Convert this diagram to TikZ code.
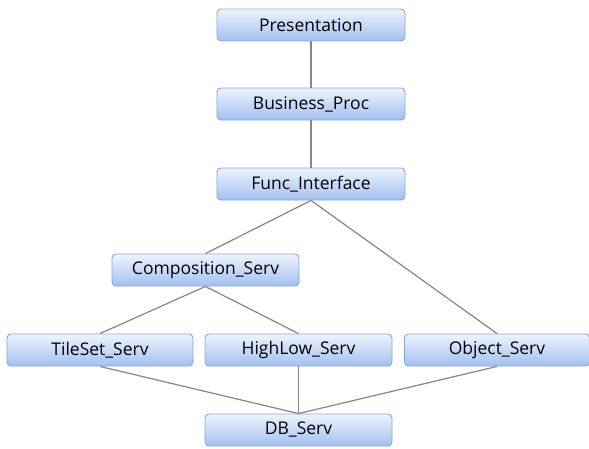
\documentclass[tikz,border=0pt]{standalone}
\usepackage{fontspec}
\setmainfont{Open Sans}
\begin{document}
\begin{tikzpicture}[x=1pt,y=-1pt,
  box/.style={draw=boxborder, line width=0.9pt, rounded corners=4pt, top color=boxtop, bottom color=boxbot,
    minimum width=#1, minimum height=32pt, inner sep=0pt, font=\fontsize{17.5}{20}\selectfont, text=black},
  box/.default=188pt,
  link/.style={draw=linkgray, line width=1.2pt}]
\definecolor{boxborder}{HTML}{86A6DC}
\definecolor{boxtop}{HTML}{EEF4FD}
\definecolor{boxbot}{HTML}{A2C0F0}
\definecolor{linkgray}{HTML}{858585}
\useasboundingbox (0,0) rectangle (589,448);
\node[box] (pres) at (311,25) {Presentation};
\node[box] (bus) at (311,104) {Business\_Proc};
\node[box] (func) at (311,184) {Func\_Interface};
\node[box=187pt] (comp) at (205.5,270) {Composition\_Serv};
\node[box=186pt] (tile) at (100,350) {TileSet\_Serv};
\node[box=187pt] (high) at (298.5,350) {HighLow\_Serv};
\node[box=185pt] (obj) at (497,350) {Object\_Serv};
\node[box=187pt] (db) at (298.5,430) {DB\_Serv};
\draw[link] (pres.south) -- (bus.north);
\draw[link] (bus.south) -- (func.north);
\draw[link] (func.south) -- (comp.north);
\draw[link] (func.south) -- (obj.north);
\draw[link] (comp.south) -- (tile.north);
\draw[link] (comp.south) -- (high.north);
\draw[link] (tile.south) -- (db.north);
\draw[link] (high.south) -- (db.north);
\draw[link] (obj.south) -- (db.north);
\end{tikzpicture}
\end{document}
